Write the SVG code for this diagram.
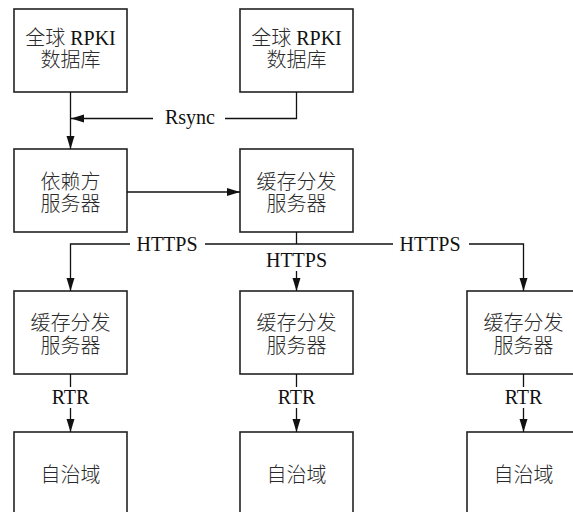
<svg xmlns="http://www.w3.org/2000/svg" width="573" height="512" viewBox="0 0 573 512">
  <style>
    .box { fill: #ffffff; stroke: #222222; stroke-width: 1.6; }
    .cn { font-family: "Liberation Serif", "Times New Roman", "DejaVu Serif", "Noto Sans CJK SC", serif; font-size: 20px; font-weight: 300; fill: #2a2a2a; text-anchor: middle; }
    .lat { font-family: "Liberation Serif", "Times New Roman", "DejaVu Serif", serif; font-weight: 400; fill: #111111; }
    .lbl { font-family: "Liberation Serif", "Times New Roman", "DejaVu Serif", serif; font-size: 20px; fill: #111111; text-anchor: middle; }
    .wire { fill: none; stroke: #111111; stroke-width: 1.3; }
    .arrow { fill: none; stroke: #111111; stroke-width: 1.3; marker-end: url(#head); }
  </style>
  <defs>
    <marker id="head" markerUnits="userSpaceOnUse" markerWidth="14" markerHeight="9" refX="13" refY="4" orient="auto">
      <path d="M0,0 L13,4 L0,8 z" fill="#111111"/>
    </marker>
  </defs>
  <rect width="573" height="512" fill="#ffffff"/>

  <!-- row 1: global RPKI repositories -->
  <g id="rpki-a">
    <rect class="box" x="14" y="9" width="113" height="83"/>
    <text class="cn" x="70.5" y="45">全球 <tspan class="lat">RPKI</tspan></text>
    <text class="cn" x="70.5" y="67">数据库</text>
  </g>
  <g id="rpki-b">
    <rect class="box" x="240" y="9" width="113" height="83"/>
    <text class="cn" x="296.5" y="45">全球 <tspan class="lat">RPKI</tspan></text>
    <text class="cn" x="296.5" y="67">数据库</text>
  </g>

  <!-- row 2 -->
  <g id="relying-party">
    <rect class="box" x="14" y="149" width="113" height="83"/>
    <text class="cn" x="70.5" y="189">依赖方</text>
    <text class="cn" x="70.5" y="211">服务器</text>
  </g>
  <g id="cache-top">
    <rect class="box" x="240" y="149" width="113" height="83"/>
    <text class="cn" x="296.5" y="189">缓存分发</text>
    <text class="cn" x="296.5" y="211">服务器</text>
  </g>

  <!-- row 3: cache servers -->
  <g id="cache-1">
    <rect class="box" x="14" y="291" width="113" height="83"/>
    <text class="cn" x="70.5" y="330">缓存分发</text>
    <text class="cn" x="70.5" y="353">服务器</text>
  </g>
  <g id="cache-2">
    <rect class="box" x="240" y="291" width="113" height="83"/>
    <text class="cn" x="296.5" y="330">缓存分发</text>
    <text class="cn" x="296.5" y="353">服务器</text>
  </g>
  <g id="cache-3">
    <rect class="box" x="467" y="291" width="113" height="83"/>
    <text class="cn" x="523.5" y="330">缓存分发</text>
    <text class="cn" x="523.5" y="353">服务器</text>
  </g>

  <!-- row 4: autonomous systems -->
  <g id="as-1">
    <rect class="box" x="14" y="432" width="113" height="83"/>
    <text class="cn" x="70.5" y="482">自治域</text>
  </g>
  <g id="as-2">
    <rect class="box" x="240" y="432" width="113" height="83"/>
    <text class="cn" x="296.5" y="482">自治域</text>
  </g>
  <g id="as-3">
    <rect class="box" x="467" y="432" width="113" height="83"/>
    <text class="cn" x="523.5" y="482">自治域</text>
  </g>

  <g id="connectors">
    <!-- repository to relying party, with rsync feed from the second repository -->
    <path class="arrow" d="M70.5,92 V149"/>
    <path class="wire" d="M296.5,92 V118.5 H225"/>
    <path class="arrow" d="M153,118.5 H71"/>
    <text class="lbl" x="190" y="124">Rsync</text>

    <!-- relying party to cache -->
    <path class="arrow" d="M127,192 H240"/>

    <!-- HTTPS distribution -->
    <path class="wire" d="M296.5,232 V244"/>
    <path class="arrow" d="M130,244 H70.5 V291"/>
    <path class="wire" d="M205,244 H393"/>
    <path class="arrow" d="M469,244 H523.5 V291"/>
    <text class="lbl" x="167" y="251">HTTPS</text>
    <text class="lbl" x="430" y="251">HTTPS</text>
    <text class="lbl" x="296.5" y="267">HTTPS</text>
    <path class="arrow" d="M296.5,271 V291"/>

    <!-- RTR to autonomous systems -->
    <path class="wire" d="M70.5,374 V387"/>
    <text class="lbl" x="70.5" y="404">RTR</text>
    <path class="arrow" d="M70.5,408 V432"/>
    <path class="wire" d="M296.5,374 V387"/>
    <text class="lbl" x="296.5" y="404">RTR</text>
    <path class="arrow" d="M296.5,408 V432"/>
    <path class="wire" d="M523.5,374 V387"/>
    <text class="lbl" x="523.5" y="404">RTR</text>
    <path class="arrow" d="M523.5,408 V432"/>
  </g>
</svg>
